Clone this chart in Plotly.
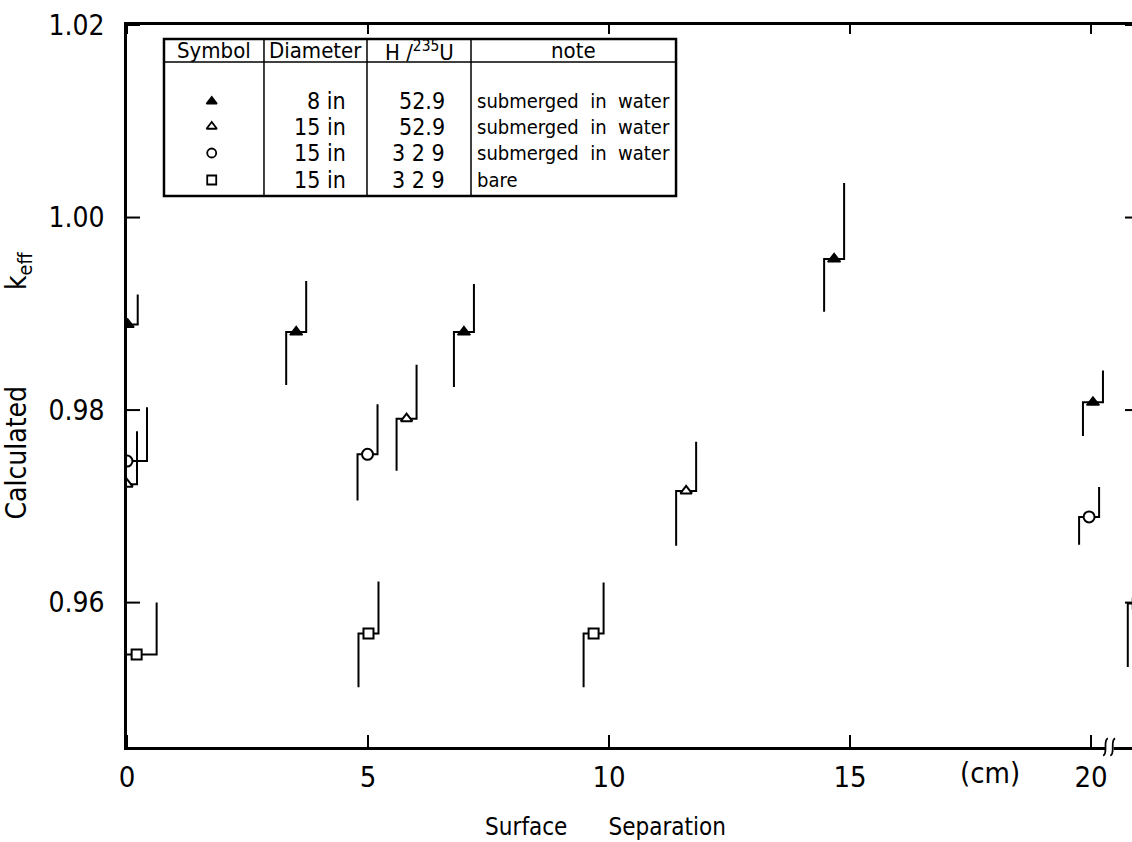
import plotly.graph_objects as go

# ---------------- data ----------------
# 8 in, H/235U = 52.9, submerged in water (filled triangles)
ft_x = [0.015, 3.51, 6.99, 14.67, 20.04]
ft_y = [0.9889, 0.9881, 0.9881, 0.9957, 0.9808]
ft_lo = [0.9860, 0.9826, 0.9824, 0.9902, 0.9773]
ft_hi = [0.9920, 0.9934, 0.9931, 1.0036, 0.9841]

# 15 in, H/235U = 52.9, submerged in water (open triangles)
ot_x = [0.0, 5.80, 11.60]
ot_y = [0.9723, 0.9791, 0.9716]
ot_lo = [0.9669, 0.9737, 0.9659]
ot_hi = [0.9778, 0.9847, 0.9767]

# 15 in, H/235U = 329, submerged in water (open circles)
oc_x = [0.0, 4.99, 19.96]
oc_y = [0.9747, 0.9754, 0.9689]
oc_lo = [0.9692, 0.9706, 0.9660]
oc_hi = [0.9803, 0.9806, 0.9720]

# 15 in, H/235U = 329, bare (open squares)
sq_x = [0.20, 5.01, 9.68, 20.97]
sq_y = [0.9546, 0.9568, 0.9568, 0.9599]
sq_lo = [0.9492, 0.9512, 0.9512, 0.9533]
sq_hi = [0.9600, 0.9622, 0.9621, 0.9655]

x_ticks = [0, 5, 10, 15, 20]
y_ticks = [0.96, 0.98, 1.00, 1.02]
y_ticktext = ["0.96", "0.98", "1.00", "1.02"]

table_header = ["Symbol", "Diameter", "H /<sup>235</sup>U", "note"]
table_diam = ["8 in", "15 in", "15 in", "15 in"]
table_h = ["52.9", "52.9", "3 2 9", "3 2 9"]
table_note = ["submerged  in  water", "submerged  in  water",
              "submerged  in  water", "bare"]

# ---------------- styling ----------------
FONT = "Liberation Sans Narrow, Arial Narrow, DejaVu Sans Condensed, Liberation Sans, sans-serif"
X_MAX = 20.85
Y_MIN, Y_MAX = 0.945, 1.02
PLOT_W, PLOT_H = 1005, 722
PX_PER_X = PLOT_W / X_MAX
PX_PER_Y = PLOT_H / (Y_MAX - Y_MIN)
NB = "\u00a0"
ZW = "\u200b"
# horizontal offsets (px) of the stepped error bars, per point
off_ft = [10, 10, 10, 10, 10]
off_ot = [10, 10, 10]
off_oc = [20, 10, 10]
off_sq = [20, 10, 10, 10]
# inward tick lengths (px): bottom, top, left, right
TL_B, TL_T, TL_L, TL_R = 12, 9, 13, 7


def step_bars(xs, ys, lo, hi, offs):
    bx, by = [], []
    for x, y, l, h, o in zip(xs, ys, lo, hi, offs):
        d = o / PX_PER_X
        bx += [x - d, x - d, x + d, x + d, None]
        by += [l, y, y, h, None]
    return bx, by


def fx(p):   # plot-area fraction -> x data
    return p * X_MAX


def fy(p):   # plot-area fraction -> y data
    return Y_MIN + p * (Y_MAX - Y_MIN)


fig = go.Figure()

series = [
    (ft_x, ft_y, ft_lo, ft_hi, off_ft, dict(symbol="triangle-up", size=11, color="black",
                                              line=dict(color="black", width=1.5))),
    (ot_x, ot_y, ot_lo, ot_hi, off_ot, dict(symbol="triangle-up", size=10, color="white",
                                              line=dict(color="black", width=2))),
    (oc_x, oc_y, oc_lo, oc_hi, off_oc, dict(symbol="circle", size=11, color="white",
                                              line=dict(color="black", width=2))),
    (sq_x, sq_y, sq_lo, sq_hi, off_sq, dict(symbol="square", size=10, color="white",
                                              line=dict(color="black", width=2))),
]

for xs, ys, lo, hi, offs, mk in series:
    bx, by = step_bars(xs, ys, lo, hi, offs)
    fig.add_trace(go.Scatter(x=bx, y=by, mode="lines",
                             line=dict(color="black", width=2),
                             hoverinfo="skip", showlegend=False))
for xs, ys, lo, hi, offs, mk in series:
    fig.add_trace(go.Scatter(x=xs, y=ys, mode="markers", marker=mk, showlegend=False))

# inward tick marks on all four sides, placed at the tick values
tx, ty = [], []
for v in x_ticks:
    tx += [v, v, None, v, v, None]
    ty += [Y_MIN, Y_MIN + TL_B / PX_PER_Y, None, Y_MAX - TL_T / PX_PER_Y, Y_MAX, None]
for v in y_ticks:
    tx += [0, TL_L / PX_PER_X, None, X_MAX - TL_R / PX_PER_X, X_MAX, None]
    ty += [v, v, None, v, v, None]
fig.add_trace(go.Scatter(x=tx, y=ty, mode="lines", line=dict(color="black", width=2),
                         hoverinfo="skip", showlegend=False, cliponaxis=False))

# ---------------- legend table ----------------
tb_left, tb_c1, tb_c2, tb_c3, tb_right = 0.0368, 0.1363, 0.2388, 0.3423, 0.5463
tb_top, tb_hdr, tb_bot = 0.9806, 0.9488, 0.7632
row_y = [0.8941, 0.8594, 0.8227, 0.7853]
hdr_y = 0.9644
sym_x = 0.0843

fig.add_trace(go.Scatter(
    x=[fx(sym_x)] * 4, y=[fy(r) for r in row_y], mode="markers",
    marker=dict(symbol=["triangle-up", "triangle-up", "circle", "square"], size=9,
                color=["black", "white", "white", "white"],
                line=dict(color="black", width=1.8)),
    hoverinfo="skip", showlegend=False))

shapes = [
    dict(type="rect", xref="paper", yref="paper", x0=tb_left, x1=tb_right, y0=tb_bot, y1=tb_top,
         line=dict(color="black", width=2.5), fillcolor="rgba(0,0,0,0)", layer="above"),
    dict(type="line", xref="paper", yref="paper", x0=tb_left, x1=tb_right, y0=tb_hdr, y1=tb_hdr,
         line=dict(color="black", width=1.5)),
]
for cx in (tb_c1, tb_c2, tb_c3):
    shapes.append(dict(type="line", xref="paper", yref="paper", x0=cx, x1=cx, y0=tb_bot, y1=tb_top,
                       line=dict(color="black", width=1.5)))

# axis break mark on the bottom axis
shapes.append(dict(type="rect", xref="x", yref="paper", x0=20.30, x1=20.47, y0=-0.008, y1=0.004,
                   line=dict(width=0), fillcolor="white", layer="above"))
for bxm in (20.30, 20.45):
    shapes.append(dict(type="path", xref="x", yref="paper",
                       path=f"M {bxm - 0.05},-0.012 C {bxm + 0.06},-0.010 {bxm - 0.06},0.010 {bxm + 0.05},0.012",
                       line=dict(color="black", width=1.8), layer="above"))

annotations = []
hdr_x = [(tb_left + tb_c1) / 2, (tb_c1 + tb_c2) / 2, (tb_c2 + tb_c3) / 2, (tb_c3 + tb_right) / 2]
for hx, ht in zip(hdr_x, table_header):
    annotations.append(dict(xref="paper", yref="paper", x=hx, y=hdr_y, text=ht, showarrow=False,
                            font=dict(family=FONT, size=22, color="black"),
                            xanchor="center", yanchor="middle"))
for ry, d, h, n in zip(row_y, table_diam, table_h, table_note):
    annotations.append(dict(xref="paper", yref="paper", x=0.2199, y=ry, text=d, showarrow=False,
                            font=dict(family=FONT, size=23, color="black"),
                            xanchor="right", yanchor="middle"))
    annotations.append(dict(xref="paper", yref="paper", x=0.3184, y=ry, text=h, showarrow=False,
                            font=dict(family=FONT, size=23, color="black"),
                            xanchor="right", yanchor="middle"))
    annotations.append(dict(xref="paper", yref="paper", x=0.3465, y=ry,
                            text=n.replace(" ", NB), showarrow=False,
                            font=dict(family=FONT, size=20, color="black"),
                            xanchor="left", yanchor="middle"))

annotations.append(dict(xref="x", yref="paper", x=17.9, y=-0.036, text="(cm)", showarrow=False,
                        font=dict(family=FONT, size=29, color="black"),
                        xanchor="center", yanchor="middle"))

fig.update_layout(
    width=1132, height=842,
    margin=dict(l=127, r=0, t=25, b=95, autoexpand=False),
    paper_bgcolor="white", plot_bgcolor="white",
    showlegend=False,
    font=dict(family=FONT, color="black"),
    xaxis=dict(range=[0, X_MAX], tickvals=x_ticks, ticks="",
               showline=True, linewidth=2.5, linecolor="black",
               mirror=True, showgrid=False, zeroline=False,
               tickfont=dict(family=FONT, size=29, color="black"), ticklabelstandoff=2,
               title=dict(text="Surface" + NB * 6 + "Separation" + NB * 7 + ZW,
                          font=dict(family=FONT, size=24, color="black"), standoff=26)),
    yaxis=dict(range=[Y_MIN, Y_MAX], tickvals=y_ticks, ticktext=y_ticktext, ticks="",
               showline=True, linewidth=2.5, linecolor="black", mirror=True,
               showgrid=False, zeroline=False,
               tickfont=dict(family=FONT, size=28, color="black"), ticklabelstandoff=14,
               title=dict(text="Calculated" + NB * 12 + "k<sub>eff</sub>",
                          font=dict(family=FONT, size=28, color="black"), standoff=16)),
    shapes=shapes,
    annotations=annotations,
)

fig.write_html("out.html")
